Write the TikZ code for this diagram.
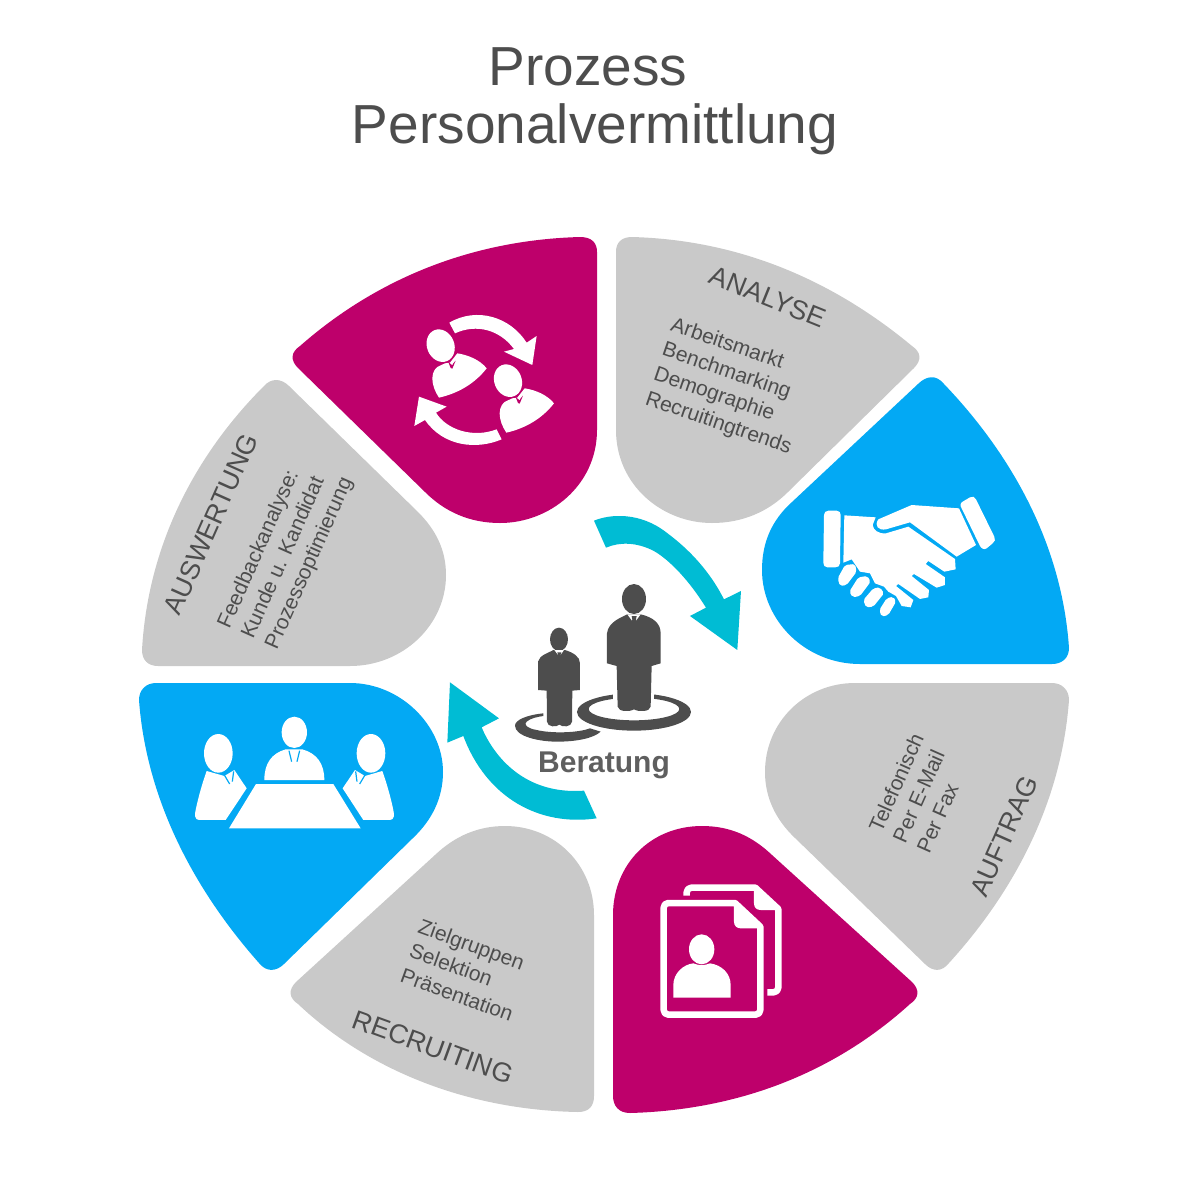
\documentclass[tikz,border=0pt]{standalone}
\usepackage{fontspec}
\setmainfont{Liberation Sans}
\definecolor{segMagenta}{HTML}{BE006B}
\definecolor{segGray}{HTML}{C9C9C9}
\definecolor{segBlue}{HTML}{03A9F4}
\definecolor{flowCyan}{HTML}{00BCD4}
\definecolor{inkGray}{HTML}{4D4D4D}
\begin{document}
\begin{tikzpicture}[x=1pt, y=-1pt,
          titletxt/.style={font=\fontsize{55}{61}\selectfont, text=inkGray},
          head/.style={font=\fontsize{27}{32}\selectfont, text=inkGray},
          body/.style={font=\fontsize{21}{26}\selectfont, text=inkGray, align=left},
          ico/.style={fill=white},
          icoline/.style={draw=white, line width=6.5pt, line join=round},
          tieline/.style={draw=segBlue, line width=1.2pt}]
  \useasboundingbox (0,0) rectangle (1200,1200);
  \node[titletxt] (title1) at (588,67) {Prozess};
  \node[titletxt] (title2) at (595,129) {Personalvermittlung};
  % segments
  \fill[segMagenta] (597,252) -- (597,430) .. controls (597,485) and (550,523) .. (500,523) .. controls (470,523) and (445,512) .. (425,492) -- (298,368) .. controls (290,360) and (291,352) .. (300,346) .. controls (375,280) and (470,240) .. (580,237) .. controls (592,237) and (597,243) .. (597,252) -- cycle;
  \fill[segGray] (616,252) -- (616,430) .. controls (616,485) and (662,523) .. (712,523) .. controls (742,523) and (768,512) .. (788,492) -- (914,368) .. controls (922,360) and (921,352) .. (912,346) .. controls (835,282) and (742,240) .. (632,237) .. controls (621,237) and (616,243) .. (616,252) -- cycle;
  \fill[segBlue] (1052,664) -- (860,664) .. controls (805,664) and (762,620) .. (762,570) .. controls (762,542) and (772,520) .. (792,502) -- (918,384) .. controls (926,376) and (936,374) .. (944,384) .. controls (1012,455) and (1062,545) .. (1069,648) .. controls (1069,658) and (1062,664) .. (1052,664) -- cycle;
  \fill[segGray] (1052,683) -- (855,683) .. controls (805,683) and (765,722) .. (765,772) .. controls (765,798) and (776,820) .. (795,838) -- (925,964) .. controls (933,972) and (942,972) .. (949,963) .. controls (1020,885) and (1062,795) .. (1069,700) .. controls (1069,690) and (1062,683) .. (1052,683) -- cycle;
  \fill[segMagenta] (613,1096) -- (613,915) .. controls (613,865) and (650,826) .. (702,826) .. controls (730,826) and (752,836) .. (772,855) -- (912,982) .. controls (920,990) and (919,998) .. (910,1004) .. controls (835,1072) and (740,1110) .. (630,1113) .. controls (619,1113) and (613,1106) .. (613,1096) -- cycle;
  \fill[segGray] (594,1096) -- (594,915) .. controls (594,865) and (555,826) .. (505,826) .. controls (478,826) and (455,836) .. (435,855) -- (296,982) .. controls (288,990) and (289,998) .. (298,1004) .. controls (370,1072) and (470,1110) .. (578,1112) .. controls (589,1112) and (594,1106) .. (594,1096) -- cycle;
  \fill[segBlue] (156,683) -- (350,683) .. controls (400,683) and (443,725) .. (443,772) .. controls (443,798) and (432,820) .. (413,838) -- (284,964) .. controls (276,972) and (266,972) .. (259,963) .. controls (190,885) and (146,795) .. (139,700) .. controls (139,690) and (146,683) .. (156,683) -- cycle;
  \fill[segGray] (158,666) -- (350,666) .. controls (403,666) and (446,625) .. (446,575) .. controls (446,550) and (436,530) .. (418,512) -- (289,386) .. controls (281,378) and (271,378) .. (264,386) .. controls (195,455) and (148,545) .. (142,650) .. controls (142,660) and (148,666) .. (158,666) -- cycle;
  % labels
  \node[head, rotate=-22] (analyse) at (768,297) {ANALYSE};
  \node[body, rotate=-19] (analysetxt) at (731,387) {Arbeitsmarkt\\Benchmarking\\Demographie\\Recruitingtrends};
  \node[head, rotate=66] (auftrag) at (1004,836) {AUFTRAG};
  \node[body, rotate=66] (auftragtxt) at (920,793) {Telefonisch\\Per E-Mail\\Per Fax};
  \node[head, rotate=-20] (recruiting) at (433,1047) {RECRUITING};
  \node[body, rotate=-20] (recruitingtxt) at (466,970) {Zielgruppen\\Selektion\\Präsentation};
  \node[head, rotate=66] (auswertung) at (211,524) {AUSWERTUNG};
  \node[body, rotate=66] (auswertungtxt) at (286,553) {Feedbackanalyse:\\Kunde u. Kandidat\\Prozessoptimierung};
  % flow arrows
  \begin{scope}[shift={(590,510)}, scale=0.3333]
    \fill[flowCyan] (12,32) .. controls (60,12) and (150,5) .. (230,68) .. controls (300,120) and (360,185) .. (402,268) -- (453,243) -- (442,420) -- (300,318) -- (348,293) .. controls (300,215) and (240,150) .. (190,122) .. controls (140,97) and (90,95) .. (48,113) -- cycle;
  \end{scope}
  \begin{scope}[shift={(440,675)}, scale=0.3333]
    \fill[flowCyan] (30,22) -- (177,130) -- (125,157) .. controls (160,240) and (250,360) .. (432,347) -- (470,430) .. controls (300,455) and (140,370) .. (70,183) -- (22,203) -- cycle;
  \end{scope}
  % exchange icon
  \begin{scope}[shift={(400,300)}, scale=0.3333]
    \fill[ico] (148,68) .. controls (230,20) and (330,50) .. (380,128) -- (410,108) -- (397,195) -- (312,155) -- (342,147) .. controls (300,90) and (230,70) .. (165,100) -- cycle;
    \fill[ico] (305,418) .. controls (230,450) and (130,440) .. (75,360) -- (43,378) -- (57,290) -- (140,320) -- (108,338) .. controls (140,390) and (220,415) .. (290,388) -- cycle;
    \foreach \sx/\sy in {0/0,202/105} {
      \begin{scope}[shift={(\sx,\sy)}]
        \fill[ico, rotate around={22:(122,137)}] (122,137) ellipse (41 and 50);
        \fill[ico] (97,235) .. controls (97,215) and (108,200) .. (120,197) -- (135,190) -- (150,188) -- (172,160) .. controls (205,165) and (240,180) .. (260,205) .. controls (225,250) and (175,280) .. (117,293) .. controls (105,275) and (97,255) .. (97,235) -- cycle;
        \fill[segMagenta] (145,186) -- (152,204) -- (157,206) -- (167,182) -- (160,190) -- (157,196) -- (152,192) -- cycle;
      \end{scope}
    }
  \end{scope}
  % handshake icon
  \begin{scope}[shift={(810,490)}, scale=0.3333]
    \fill[ico] (55,62) -- (80,62) .. controls (88,62) and (92,68) .. (92,75) -- (90,220) .. controls (90,228) and (84,232) .. (76,232) -- (52,232) .. controls (44,232) and (40,226) .. (40,218) -- (42,75) .. controls (42,68) and (47,62) .. (55,62) -- cycle;
    \fill[ico] (458,35) -- (480,22) .. controls (488,18) and (495,20) .. (498,28) -- (553,140) .. controls (557,148) and (555,155) .. (548,160) -- (530,175) .. controls (522,180) and (515,176) .. (510,168) -- (455,55) .. controls (450,47) and (450,40) .. (458,35) -- cycle;
    \fill[ico] (205,88) -- (305,45) -- (447,55) -- (498,165) -- (440,200) -- (300,97) -- (228,118) .. controls (205,122) and (192,108) .. (205,88) -- cycle;
    \fill[ico] (103,76) -- (197,82) -- (188,105) .. controls (190,120) and (205,132) .. (228,130) -- (295,110) -- (435,207) -- (437,238) -- (403,245) -- (355,213) -- (347,222) -- (405,262) -- (405,285) -- (380,293) -- (312,252) -- (305,258) -- (357,300) -- (355,322) -- (330,327) -- (265,282) -- (258,288) -- (310,330) -- (302,352) -- (275,348) -- (258,318) -- (235,305) -- (222,290) -- (195,280) -- (180,250) -- (150,245) -- (125,208) -- (100,218) -- cycle;
    \fill[ico, rounded corners=2pt] (83,265) -- (105,225) -- (135,222) -- (140,245) -- (110,285) -- (90,288) -- cycle;
    \fill[ico, rounded corners=2pt] (118,305) -- (145,262) -- (172,258) -- (182,275) -- (150,318) -- (128,322) -- cycle;
    \fill[ico, rounded corners=2pt] (160,330) -- (190,295) -- (210,292) -- (222,310) -- (190,350) -- (168,352) -- cycle;
    \fill[ico, rounded corners=2pt] (208,360) -- (230,325) -- (250,320) -- (258,335) -- (235,375) -- (215,380) -- cycle;
  \end{scope}
  % consulting icon
  \begin{scope}[shift={(510,580)}, scale=0.3333]
    \fill[inkGray, even odd rule] (372,396) ellipse (171 and 56) (372,387) ellipse (136 and 34);
    \fill[white] (310,325) rectangle (432,375);
    \fill[inkGray] (100,400) .. controls (50,405) and (15,420) .. (15,437) .. controls (15,470) and (90,485) .. (140,485) .. controls (200,485) and (250,475) .. (272,455) -- (240,445) .. controls (200,460) and (120,460) .. (80,450) .. controls (50,445) and (40,432) .. (50,425) .. controls (60,415) and (85,410) .. (100,408) -- cycle;
    \fill[inkGray] (372,57) ellipse (36 and 45);
    \fill[inkGray] (291,250) -- (291,160) .. controls (295,125) and (335,112) .. (352,103) -- (392,103) .. controls (430,112) and (452,130) .. (452,160) -- (452,250) -- (425,258) -- (422,380) .. controls (420,396) and (385,396) .. (372,388) .. controls (360,396) and (325,396) .. (323,380) -- (320,258) -- cycle;
    \fill[white] (352,103) -- (372,130) -- (392,103) -- cycle;
    \fill[inkGray] (365,108) -- (380,108) -- (378,118) -- (381,134) -- (372,140) -- (364,134) -- (367,118) -- cycle;
    \fill[inkGray] (147,178) ellipse (27 and 35);
    \fill[inkGray] (84,330) -- (84,245) .. controls (88,225) and (118,218) .. (130,210) -- (165,210) .. controls (190,218) and (210,230) .. (210,250) -- (210,330) -- (187,332) -- (186,425) .. controls (185,442) and (155,442) .. (148,434) .. controls (140,442) and (112,442) .. (111,425) -- (110,332) -- cycle;
    \fill[white] (133,210) -- (148,230) -- (162,210) -- cycle;
    \fill[inkGray] (142,217) -- (154,217) -- (152,224) -- (153,234) -- (148,238) -- (143,234) -- (144,224) -- cycle;
  \end{scope}
  \node[font=\fontsize{30}{34}\selectfont\bfseries, text=inkGray!90] (beratung) at (604,765) {Beratung};
  % meeting icon
  \begin{scope}[shift={(185,710)}, scale=0.3333]
    \fill[ico] (328,67) ellipse (38 and 47);
    \fill[ico] (238,210) .. controls (238,160) and (260,130) .. (302,118) -- (352,118) .. controls (395,130) and (418,160) .. (418,210) -- cycle;
    \draw[tieline] (312,122) -- (320,155) (344,122) -- (336,155);
    \fill[ico] (213,222) -- (445,222) -- (527,355) -- (132,355) -- cycle;
    \fill[ico] (100,130) ellipse (43 and 58);
    \fill[ico] (65,183) -- (118,198) -- (148,180) -- (185,235) -- (122,330) -- (42,330) .. controls (28,330) and (29,312) .. (32,300) .. controls (40,260) and (55,210) .. (65,183) -- cycle;
    \draw[tieline] (118,195) -- (134,222) (146,184) -- (142,215);
    \fill[ico] (558,130) ellipse (43 and 58);
    \fill[ico] (592,183) -- (540,198) -- (510,180) -- (473,235) -- (535,330) -- (615,330) .. controls (629,330) and (628,312) .. (625,300) .. controls (617,260) and (602,210) .. (592,183) -- cycle;
    \draw[tieline] (540,195) -- (524,222) (512,184) -- (516,215);
  \end{scope}
  % profile icon
  \begin{scope}[shift={(650,875)}, scale=0.3333]
    \draw[icoline] (110,62) -- (110,52) .. controls (110,44) and (116,38) .. (124,38) -- (316,38) -- (385,102) -- (385,338) .. controls (385,346) and (379,352) .. (371,352) -- (352,352);
    \fill[ico] (312,40) -- (312,85) .. controls (312,98) and (320,105) .. (332,105) -- (385,105) -- cycle;
    \draw[icoline] (55,84) -- (255,84) -- (331,155) -- (331,405) .. controls (331,413) and (325,419) .. (317,419) -- (55,419) .. controls (47,419) and (41,413) .. (41,405) -- (41,98) .. controls (41,90) and (47,84) .. (55,84) -- cycle;
    \fill[ico] (252,88) -- (252,140) .. controls (252,152) and (260,160) .. (272,160) -- (328,160) -- cycle;
    \fill[ico] (155,223) ellipse (38 and 45);
    \fill[ico] (70,368) -- (70,330) .. controls (70,295) and (100,268) .. (130,265) .. controls (145,272) and (165,272) .. (180,265) .. controls (215,270) and (242,295) .. (242,330) -- (242,368) -- cycle;
  \end{scope}
\end{tikzpicture}
\end{document}
